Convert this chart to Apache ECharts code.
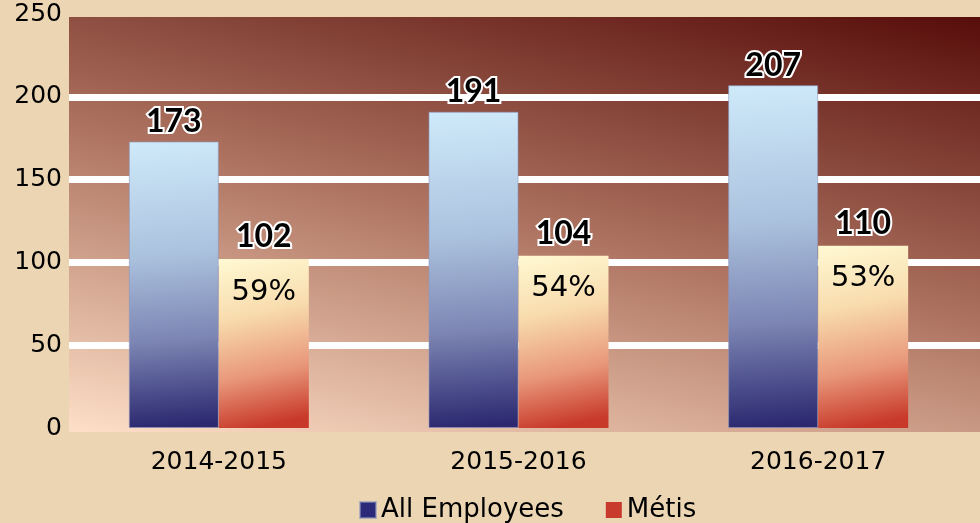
<!DOCTYPE html>
<html>
<head>
<meta charset="utf-8">
<script src="https://cdn.jsdelivr.net/npm/echarts@6/dist/echarts.min.js"></script>
<style>
html,body{margin:0;padding:0;background:#ebd5b3;}
#main{width:980px;height:523px;}
</style>
</head>
<body>
<div id="main"></div>
<script>
var categories = ['2014-2015', '2015-2016', '2016-2017'];
var allEmployees = [173, 191, 207];
var metis = [102, 104, 110];
var metisShare = ['59%', '54%', '53%'];
var yTicks = [0, 50, 100, 150, 200, 250];

var FONT = 'DejaVu Sans';
var LFONT = 'Lato';
var chart = echarts.init(document.getElementById('main'), null, {renderer: 'canvas'});

var plotBg = new echarts.graphic.LinearGradient(0.43, 1.2, 0.57, -0.2, [
  {offset: 0, color: '#fddec6'},
  {offset: 0.5, color: '#ad7360'},
  {offset: 1, color: '#580e0b'}
]);
var blueGrad = new echarts.graphic.LinearGradient(0, 0, 0.25, 1, [
  {offset: 0, color: '#cfeafa'},
  {offset: 0.4, color: '#abc2de'},
  {offset: 0.7, color: '#7c85b3'},
  {offset: 1, color: '#2b2870'}
]);
var redGrad = new echarts.graphic.LinearGradient(0, 0, 0.4, 1, [
  {offset: 0, color: '#fff9d3'},
  {offset: 0.35, color: '#f8dcae'},
  {offset: 0.7, color: '#e8977a'},
  {offset: 1, color: '#c8392a'}
]);

var GRID_TOP = 14, GRID_BOTTOM = 95;

chart.setOption({
  backgroundColor: '#ebd5b3',
  animation: false,
  graphic: [{
    type: 'rect', z: -10, silent: true,
    shape: {x: 69, y: 17, width: 911, height: 415},
    style: {fill: plotBg}
  }],
  grid: [
    {left: 69, right: 12, top: GRID_TOP, bottom: GRID_BOTTOM},
    {left: 69, right: 0, top: GRID_TOP, bottom: GRID_BOTTOM}
  ],
  legend: {
    top: 492, left: 354,
    icon: 'rect', itemWidth: 16, itemHeight: 16, itemGap: 42,
    textStyle: {fontFamily: FONT, fontSize: 26, color: '#000'},
    data: [
      {name: 'All Employees', itemStyle: {color: '#2b2a78'}},
      {name: 'Métis', itemStyle: {color: '#c83a2c'}}
    ]
  },
  xAxis: [
    {
      type: 'category', gridIndex: 0,
      data: categories,
      axisLine: {show: false},
      axisTick: {show: false},
      axisLabel: {fontFamily: FONT, fontSize: 25, color: '#000', margin: 22}
    },
    {type: 'value', gridIndex: 1, min: 0, max: 1, show: false}
  ],
  yAxis: [
    {
      type: 'value', gridIndex: 0,
      min: yTicks[0], max: yTicks[yTicks.length - 1], interval: 50,
      axisLine: {show: false}, axisTick: {show: false},
      axisLabel: {show: false}, splitLine: {show: false}
    },
    {
      type: 'value', gridIndex: 1,
      min: yTicks[0], max: yTicks[yTicks.length - 1], interval: 50,
      axisLine: {show: false}, axisTick: {show: false},
      axisLabel: {fontFamily: FONT, fontSize: 25, color: '#000', margin: 7},
      splitLine: {show: true, showMinLine: false, showMaxLine: false, lineStyle: {color: '#ffffff', width: 7}}
    }
  ],
  series: [
    {
      name: 'All Employees',
      type: 'bar', xAxisIndex: 0, yAxisIndex: 0,
      data: allEmployees,
      barWidth: 90,
      barGap: '0%',
      z: 5,
      itemStyle: {color: blueGrad, borderColor: 'rgba(140,150,190,0.6)', borderWidth: 1},
      label: {
        show: true, position: 'top', distance: 4,
        fontFamily: LFONT, fontSize: 32, fontWeight: 'bold', color: '#000',
        textBorderColor: '#fff', textBorderWidth: 4
      }
    },
    {
      name: 'Métis',
      type: 'bar', xAxisIndex: 0, yAxisIndex: 0,
      data: metis,
      barWidth: 90,
      z: 5,
      itemStyle: {color: redGrad},
      label: {
        show: true, position: 'insideTop', distance: 0, offset: [0, -47],
        formatter: function (p) { return '{v|' + p.value + '}\n{p|' + metisShare[p.dataIndex] + '}'; },
        rich: {
          v: {fontFamily: LFONT, fontSize: 32, fontWeight: 'bold', color: '#000',
              textBorderColor: '#fff', textBorderWidth: 4, lineHeight: 50, align: 'center'},
          p: {fontFamily: FONT, fontSize: 29, color: '#000', lineHeight: 60, align: 'center'}
        }
      }
    }
  ]
});
</script>
</body>
</html>
